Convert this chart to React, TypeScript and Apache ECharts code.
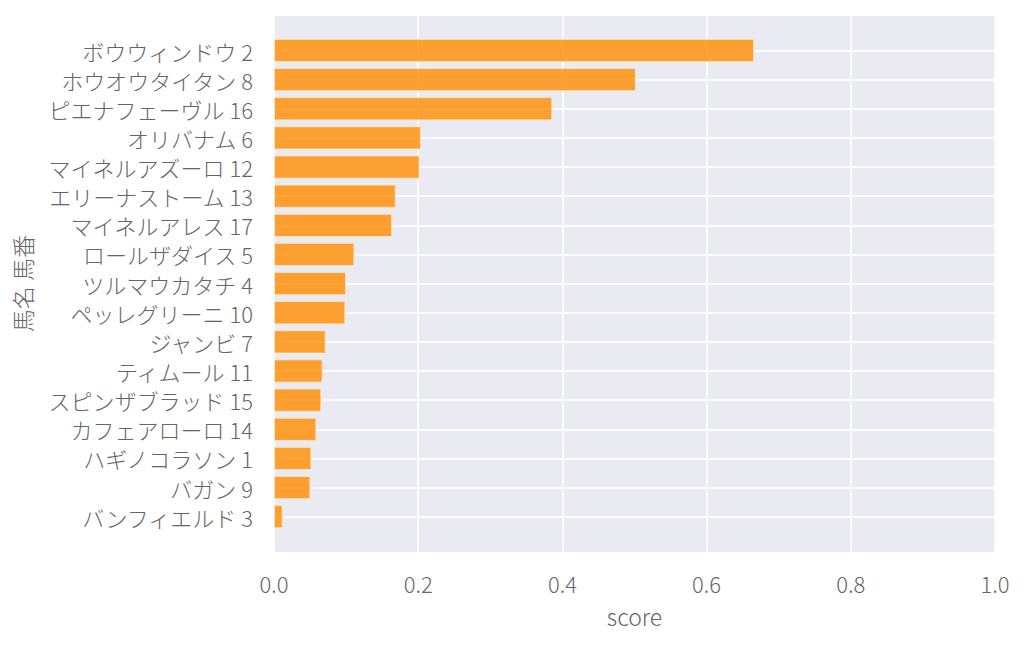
import React, { useEffect, useRef } from "react";
import * as echarts from "echarts";

const horseNames: string[] = [
  "ボウウィンドウ 2",
  "ホウオウタイタン 8",
  "ピエナフェーヴル 16",
  "オリバナム 6",
  "マイネルアズーロ 12",
  "エリーナストーム 13",
  "マイネルアレス 17",
  "ロールザダイス 5",
  "ツルマウカタチ 4",
  "ペッレグリーニ 10",
  "ジャンビ 7",
  "ティムール 11",
  "スピンザブラッド 15",
  "カフェアローロ 14",
  "ハギノコラソン 1",
  "バガン 9",
  "バンフィエルド 3",
];

const scores: number[] = [
  0.666, 0.502, 0.386, 0.204, 0.202, 0.169, 0.164, 0.1115, 0.1, 0.099,
  0.0717, 0.0675, 0.0657, 0.0588, 0.0519, 0.0505, 0.012,
];

const xTicks = { min: 0, max: 1, interval: 0.2 };

const FONT = '"Noto Sans CJK JP Light", "Noto Sans CJK JP", "Noto Sans", sans-serif';
const TEXT_COLOR = "#666666";

export default function App() {
  const ref = useRef<HTMLDivElement>(null);
  useEffect(() => {
    if (!ref.current) return;
    const chart = echarts.init(ref.current, undefined, { renderer: "svg" });
    chart.setOption({
      animation: false,
      backgroundColor: "#ffffff",
      textStyle: { fontFamily: FONT, fontWeight: 300 },
      grid: [
        {
          left: 274,
          right: 29,
          top: 16,
          bottom: 93,
          show: true,
          backgroundColor: "#EAEAF2",
          borderWidth: 0,
        },
        {
          left: 274,
          right: 29,
          top: 50.5,
          bottom: 128.3,
          show: false,
        },
      ],
      xAxis: [
        {
          type: "value",
          gridIndex: 0,
          min: xTicks.min,
          max: xTicks.max,
          interval: xTicks.interval,
          axisLine: { show: false },
          axisTick: { show: false },
          axisLabel: {
            margin: 20,
            fontSize: 22,
            color: TEXT_COLOR,
            fontFamily: FONT,
            fontWeight: 300,
            formatter: (v: number) => v.toFixed(1),
          },
          splitLine: { show: true, lineStyle: { color: "#ffffff", width: 1.6 } },
          name: "score",
          nameLocation: "middle",
          nameGap: 52,
          nameTextStyle: {
            fontSize: 23,
            color: TEXT_COLOR,
            fontFamily: FONT,
            fontWeight: 300,
          },
        },
        {
          type: "value",
          gridIndex: 1,
          min: xTicks.min,
          max: xTicks.max,
          show: false,
          splitLine: { show: false },
        },
      ],
      yAxis: [
        {
          type: "value",
          gridIndex: 0,
          show: false,
          splitLine: { show: false },
        },
        {
          type: "category",
          gridIndex: 1,
          data: horseNames,
          inverse: true,
          boundaryGap: false,
          axisLine: { show: false },
          axisTick: { show: false },
          axisLabel: {
            margin: 21,
            fontSize: 22,
            color: TEXT_COLOR,
            fontFamily: FONT,
            fontWeight: 300,
          },
          splitLine: { show: true, lineStyle: { color: "#ffffff", width: 1.6 } },
          name: "馬名 馬番",
          nameLocation: "middle",
          nameGap: 241,
          nameRotate: 90,
          nameTextStyle: {
            fontSize: 23,
            color: TEXT_COLOR,
            fontFamily: FONT,
            fontWeight: 300,
          },
        },
      ],
      series: [
        {
          type: "bar",
          xAxisIndex: 1,
          yAxisIndex: 1,
          data: scores,
          barWidth: "80%",
          clip: false,
          itemStyle: {
            color: "rgba(255,140,0,0.8)",
            borderColor: "rgba(255,230,200,0.9)",
            borderWidth: 1,
          },
          z: 3,
        },
      ],
    });
    return () => chart.dispose();
  }, []);
  return (
    <div
      ref={ref}
      style={{ position: "fixed", left: 0, top: 0, width: 1024, height: 645 }}
    />
  );
}
